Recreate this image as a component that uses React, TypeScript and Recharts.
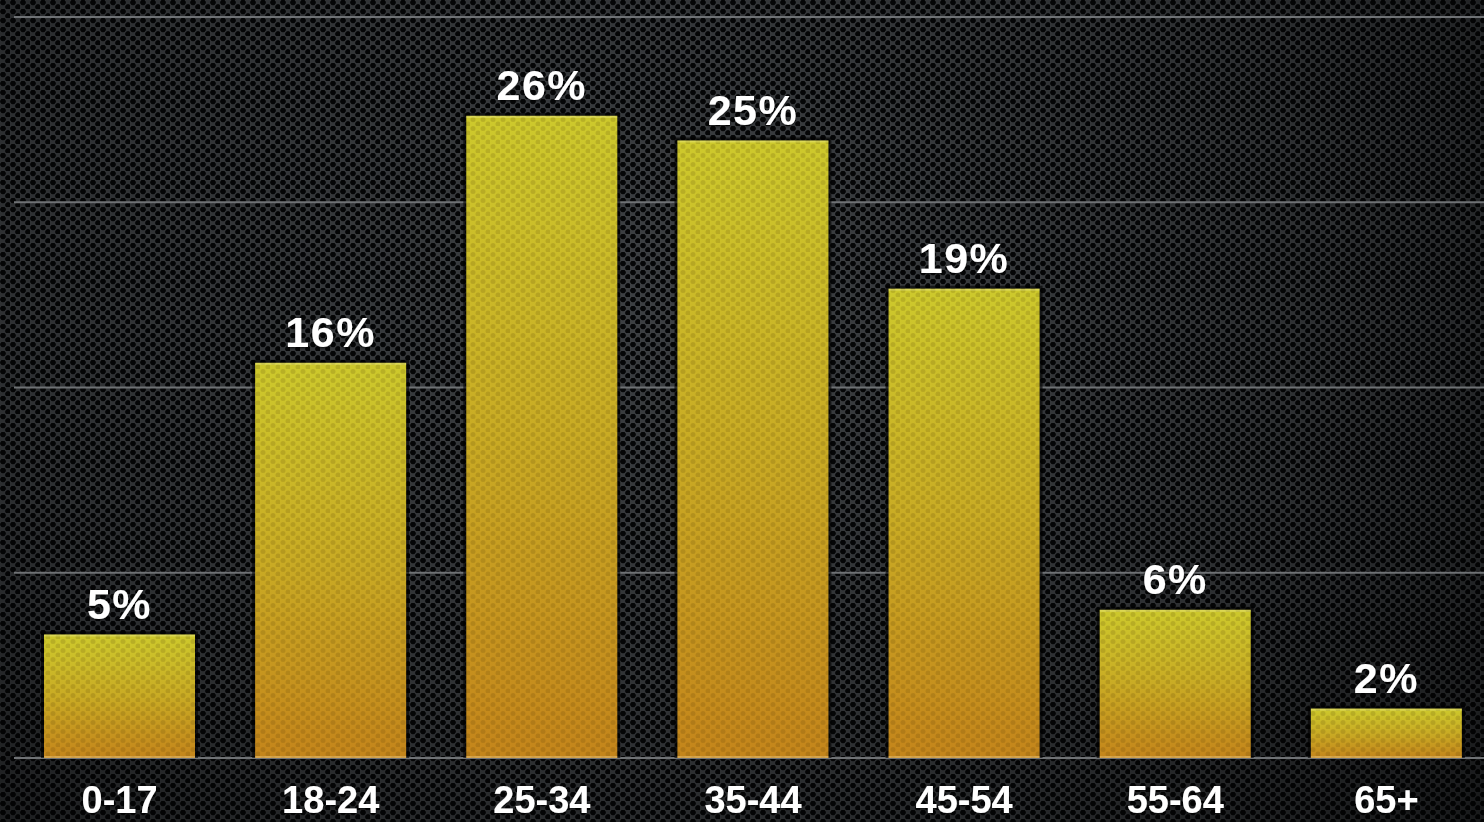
import React from "react";
import { BarChart, Bar, XAxis, YAxis, CartesianGrid, LabelList } from "recharts";

const categories = ["0-17", "18-24", "25-34", "35-44", "45-54", "55-64", "65+"];
const shares = [5, 16, 26, 25, 19, 6, 2];
const yTicks = [0, 7.5, 15, 22.5, 30];

const data = categories.map((c, i) => ({ age: c, share: shares[i] }));

const BarShape = (props: any) => {
  const { x, y, width, height } = props;
  if (!height || height <= 0) return null;
  return (
    <g>
      <rect x={x - 3} y={y - 3} width={width + 6} height={height + 3} fill="rgba(0,0,0,0.6)" />
      <rect x={x} y={y} width={width} height={height} fill="url(#barGrad)" />
      <rect x={x} y={y} width={width} height={height} fill="url(#meshOverlay)" />
      <rect x={x} y={y} width={width} height={2} fill="rgba(255,255,190,0.28)" />
      <rect x={x} y={y + height - 2} width={width} height={2} fill="rgba(255,230,170,0.35)" />
    </g>
  );
};

const labelStyle = {
  fill: "#ffffff",
  fontSize: 43,
  fontWeight: 700,
  fontFamily: "'Liberation Sans', Arial, Helvetica, sans-serif",
  letterSpacing: 1.5,
  filter: "url(#txtShadow)",
};

export default function App() {
  const bg = {
    position: "absolute" as const,
    left: 0,
    top: 0,
    width: 1484,
    height: 822,
    overflow: "hidden" as const,
    backgroundColor: "#3d4043",
    backgroundImage: [
      "radial-gradient(ellipse 75% 95% at 45% 35%, rgba(0,0,0,0) 0%, rgba(0,0,0,0.25) 60%, rgba(0,0,0,0.6) 100%)",
      "radial-gradient(circle at 3px 2.5px, #050607 2.4px, rgba(5,6,7,0) 3.2px)",
      "radial-gradient(circle at 8px 7px, #050607 2.4px, rgba(5,6,7,0) 3.2px)",
    ].join(","),
    backgroundSize: "1484px 822px, 10px 9px, 10px 9px",
  };
  return (
    <div style={bg}>
      <svg width={0} height={0} style={{ position: "absolute" }}>
        <defs>
          <linearGradient id="barGrad" x1="0" y1="0" x2="0" y2="1">
            <stop offset="0%" stopColor="#cdc92c" />
            <stop offset="50%" stopColor="#c9ab24" />
            <stop offset="100%" stopColor="#c4851b" />
          </linearGradient>
          <pattern id="meshOverlay" width={10} height={9} patternUnits="userSpaceOnUse">
            <circle cx={3} cy={2.5} r={2.5} fill="rgba(60,40,0,0.15)" />
            <circle cx={8} cy={7} r={2.5} fill="rgba(60,40,0,0.15)" />
          </pattern>
          <filter id="txtShadow" x="-20%" y="-20%" width="140%" height="140%">
            <feDropShadow dx={0} dy={1} stdDeviation={1.5} floodColor="#000" floodOpacity={0.8} />
          </filter>
        </defs>
      </svg>
      <BarChart
        width={1500}
        height={822}
        data={data}
        margin={{ top: 17, right: 8, left: 14, bottom: 0 }}
      >
        <CartesianGrid vertical={false} stroke="#6f7275" strokeWidth={2} />
        <XAxis
          dataKey="age"
          axisLine={false}
          tickLine={false}
          tickSize={0}
          tickMargin={28}
          height={64}
          interval={0}
          tick={{
            fill: "#ffffff",
            fontSize: 38,
            fontWeight: 700,
            fontFamily: "'Liberation Sans', Arial, Helvetica, sans-serif",
            filter: "url(#txtShadow)",
          }}
        />
        <YAxis hide domain={[0, 30]} ticks={yTicks} />
        <Bar dataKey="share" barSize={151} shape={<BarShape />} isAnimationActive={false}>
          <LabelList
            dataKey="share"
            position="top"
            offset={16}
            formatter={(v: any) => `${v}%`}
            style={labelStyle}
          />
        </Bar>
      </BarChart>
    </div>
  );
}
